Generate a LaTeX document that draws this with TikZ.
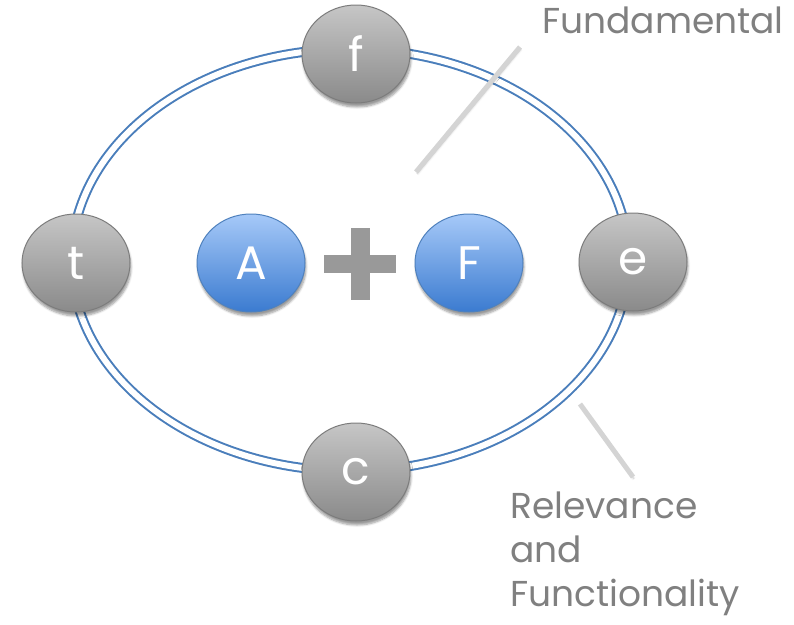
\documentclass[tikz,border=0pt]{standalone}
\usepackage{fontspec}
\setmainfont{Poppins}
\usetikzlibrary{shapes.geometric,shadows.blur}
\definecolor{ringblue}{HTML}{4A7EBB}
\definecolor{balltop}{HTML}{C6C6C6}
\definecolor{ballbot}{HTML}{8A8A8A}
\definecolor{ballline}{HTML}{7C7C7C}
\definecolor{bluetop}{HTML}{A6C9F8}
\definecolor{bluebot}{HTML}{3B7BD0}
\definecolor{blueline}{HTML}{4F81BD}
\definecolor{captext}{HTML}{808080}
\definecolor{leader}{HTML}{D4D4D4}
\definecolor{plusgray}{HTML}{999999}
\tikzset{
  ball/.style={ellipse, minimum width=108pt, minimum height=98pt, inner sep=0pt,
    draw=ballline, line width=1pt, top color=balltop, bottom color=ballbot,
    text=white, font=\fontsize{47}{47}\selectfont,
    blur shadow={shadow xshift=1pt, shadow yshift=-4pt, shadow blur steps=6, shadow opacity=40}},
  blueball/.style={ball, draw=blueline, top color=bluetop, bottom color=bluebot},
  caption/.style={text=captext, inner sep=0pt, font=\fontsize{36}{44}\selectfont},
  leaderline/.style={draw=leader, line width=5pt,
    blur shadow={shadow xshift=1pt, shadow yshift=-2pt, shadow blur steps=4, shadow opacity=25}}
}
\begin{document}
\begin{tikzpicture}[x=1pt,y=-1pt]
\useasboundingbox (0,0) rectangle (794,624);

% double blue ring
\draw[draw=ringblue, line width=2pt, double=white, double distance=6pt]
  (350,260) ellipse [x radius=278.5pt, y radius=211pt];

% leader lines
\coordinate (fa) at (520,47);
\coordinate (fb) at (416,172);
\coordinate (ra) at (580,404);
\coordinate (rb) at (633,477);
\path[leaderline] (fa) -- (fb);
\path[leaderline] (ra) -- (rb);

% balls on the ring
\node[ball] (f) at (356,54) {f};
\node[ball] (t) at (76,263) {t};
\node[ball] (e) at (633,262) {e};
\node[ball] (c) at (356,472) {c};

% centre: A + F
\node[blueball] (A) at (251,263) {A};
\node[blueball] (F) at (469,263) {F};
\fill[plusgray] (351,228) rectangle (370,300);
\fill[plusgray] (324,255) rectangle (396,273);

% captions
\node[caption, anchor=base west] (fund) at (542,33) {Fundamental};
\node[caption, anchor=base west, align=left] (rel) at (510,606)
  {Relevance\\and\\Functionality};
\end{tikzpicture}
\end{document}
